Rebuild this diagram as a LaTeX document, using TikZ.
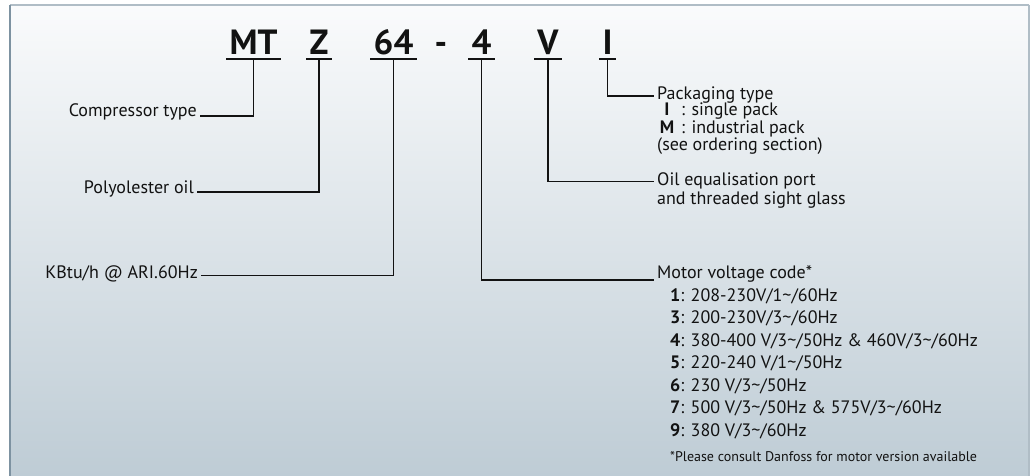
\documentclass[tikz,border=0pt]{standalone}
\usepackage{fontspec}
\setmainfont{PT Sans}
\usetikzlibrary{positioning}
\definecolor{dfbgtop}{RGB}{250,251,252}
\definecolor{dfbgbot}{RGB}{190,204,213}
\definecolor{dfedge}{RGB}{125,146,161}
\definecolor{dfedgelt}{RGB}{176,189,198}
\definecolor{dfink}{RGB}{18,18,18}

\begin{document}
\begin{tikzpicture}[x=1pt, y=-1pt,
  codepart/.style={font=\fontsize{35}{35}\selectfont\bfseries, text=dfink, inner xsep=3pt, inner ysep=4pt, text depth=0pt, anchor=south},
  lbl/.style={font=\fontsize{18}{20}\selectfont, text=dfink, inner xsep=3pt, inner ysep=0pt},
  lblr/.style={lbl, anchor=base west},
  lbll/.style={lbl, anchor=base east},
  codeb/.style={lbl, font=\fontsize{18}{20}\selectfont\bfseries, anchor=base},
  note/.style={lbl, font=\fontsize{14}{16}\selectfont, anchor=base west},
  uline/.style={line width=1.4pt, dfink},
  conn/.style={line width=1.8pt, dfink},
]
  \useasboundingbox (0,0) rectangle (1035,476);
  % panel
  \shade[top color=dfbgtop, bottom color=dfbgbot] (10,5) rectangle (1029,476);
  \draw[line width=1.2pt, dfedgelt] (10,5) -- (1029,5);
  \draw[line width=2pt, dfedgelt] (1029,5) -- (1029,476);
  \draw[line width=1.6pt, dfedge] (10,5) -- (10,476);

  % code letters
  \node[codepart] (mt)   at (253.5,59) {MT};
  \node[codepart] (z)    at (319,59)   {Z};
  \node[codepart] (cap)  at (393.5,59) {64};
  \node[codepart] (hy)   at (441,59)   {-};
  \node[codepart] (volt) at (481.5,59) {4};
  \node[codepart] (oil)  at (548,59)   {V};
  \node[codepart] (pack) at (607.5,59) {I};
  \foreach \p in {mt,z,cap,volt,oil,pack}
    \draw[uline] (\p.south west) -- (\p.south east);

  % left labels
  \node[lbll] (ct) at (200,117)   {Compressor type};
  \node[lbll] (po) at (197,193)   {Polyolester oil};
  \node[lbll] (kb) at (201,278)   {KBtu/h @ ARI.60Hz};

  % right labels
  \node[lblr] (pk) at (654,99.5) {Packaging type};
  \node[codeb] (pki) at (667,116) {I};
  \node[lblr] (pkis) at (678,116) {: single pack};
  \node[codeb] (pkm) at (667,133) {M};
  \node[lblr] (pkms) at (678,133) {: industrial pack};
  \node[lblr] (pko) at (654,150) {(see ordering section)};

  \node[lblr] (oe)  at (654,185) {Oil equalisation port};
  \node[lblr] (oe2) at (654,204) {and threaded sight glass};

  \node[lblr] (mv) at (654,278.5) {Motor voltage code*};
  \node[lblr] (mv1) at (667,301)   {\textbf{1}: 208-230V/1\textasciitilde/60Hz};
  \node[lblr] (mv3) at (667,323.5) {\textbf{3}: 200-230V/3\textasciitilde/60Hz};
  \node[lblr] (mv4) at (667,346)   {\textbf{4}: 380-400 V/3\textasciitilde/50Hz \& 460V/3\textasciitilde/60Hz};
  \node[lblr] (mv5) at (667,368.5) {\textbf{5}: 220-240 V/1\textasciitilde/50Hz};
  \node[lblr] (mv6) at (667,391)   {\textbf{6}: 230 V/3\textasciitilde/50Hz};
  \node[lblr] (mv7) at (667,413.5) {\textbf{7}: 500 V/3\textasciitilde/50Hz \& 575V/3\textasciitilde/60Hz};
  \node[lblr] (mv9) at (667,436)   {\textbf{9}: 380 V/3\textasciitilde/60Hz};
  \node[note] (fn)  at (667,461)   {*Please consult Danfoss for motor version available};

  % connectors
  \draw[conn] (mt.south)   |- ([yshift=1pt]ct.base east);
  \draw[conn] (z.south)    |- ([yshift=1pt]po.base east);
  \draw[conn] (cap.south)  |- ([yshift=2.5pt]kb.base east);
  \draw[conn] (pack.south) |- ([yshift=3.5pt]pk.base west);
  \draw[conn] (oil.south)  |- ([yshift=3.5pt]oe.base west);
  \draw[conn] (volt.south) |- ([yshift=-1.5pt]mv.base west);
\end{tikzpicture}
\end{document}
